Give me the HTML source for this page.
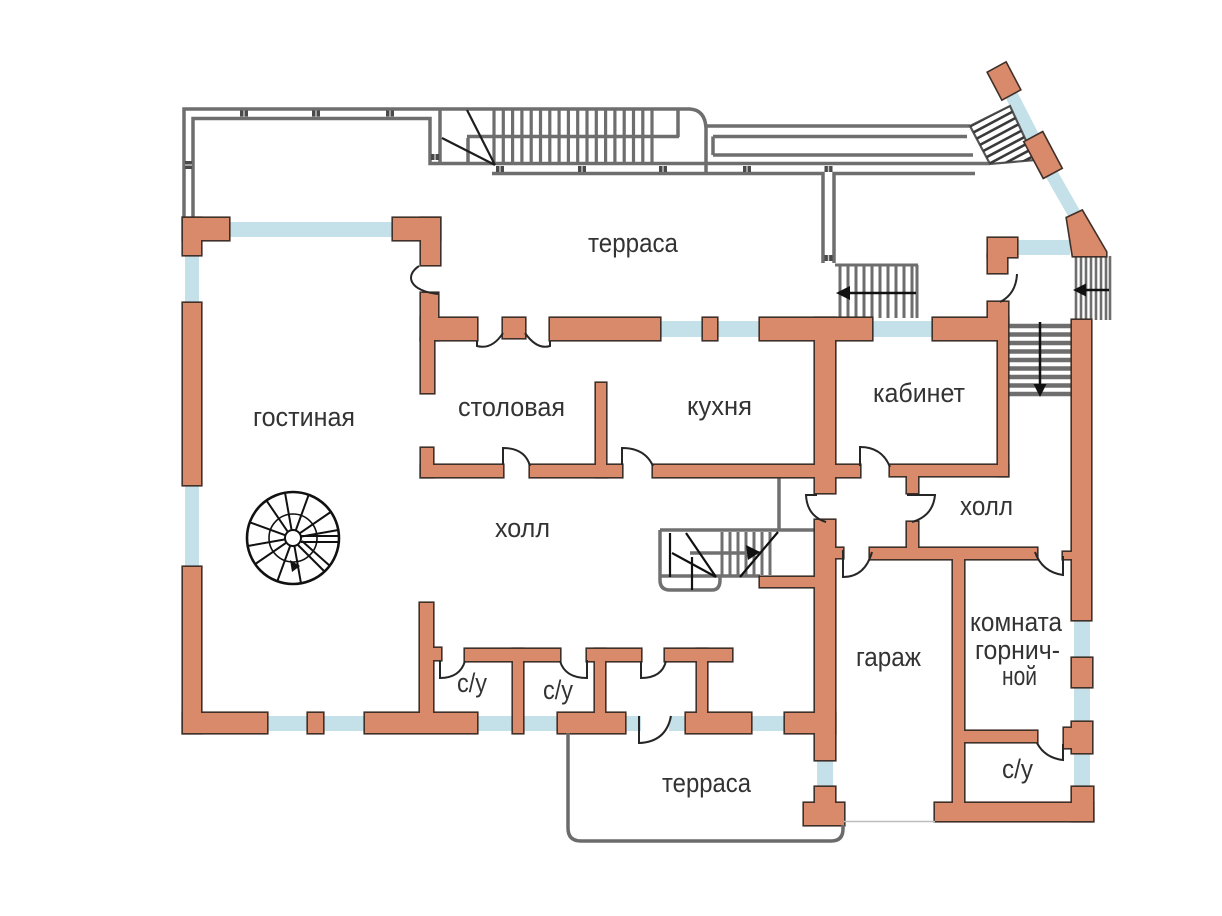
<!DOCTYPE html>
<html><head><meta charset="utf-8">
<style>html,body{margin:0;padding:0;background:#fff}svg{display:block}</style>
</head><body>
<svg width="1222" height="916" viewBox="0 0 1222 916" xmlns="http://www.w3.org/2000/svg">
<rect width="1222" height="916" fill="#fff"/>
<defs>
<g id="post"><rect x="-4" y="-3" width="8" height="6" fill="#4a4a4a"/><rect x="-0.7" y="-3" width="1.4" height="6" fill="#c8c8c8"/></g>
<g id="W">
<rect x="183" y="218" width="46" height="22"/>
<rect x="183" y="218" width="18" height="37"/>
<rect x="183" y="303" width="18" height="182"/>
<rect x="183" y="567" width="18" height="166"/>
<rect x="183" y="713" width="84" height="20"/>
<rect x="308" y="713" width="15" height="20"/>
<rect x="365" y="713" width="112" height="20"/>
<rect x="420" y="603" width="13" height="112"/>
<rect x="433" y="648" width="8" height="12"/>
<rect x="465" y="649" width="95" height="12"/>
<rect x="513" y="649" width="10" height="84"/>
<rect x="558" y="713" width="67" height="20"/>
<rect x="595" y="649" width="10" height="66"/>
<rect x="587" y="649" width="54" height="12"/>
<rect x="686" y="713" width="65" height="20"/>
<rect x="697" y="649" width="10" height="66"/>
<rect x="665" y="649" width="67" height="12"/>
<rect x="785" y="713" width="50" height="20"/>
<rect x="815" y="520" width="20" height="240"/>
<rect x="815" y="318" width="20" height="175"/>
<rect x="815" y="787" width="20" height="18"/>
<rect x="804" y="803" width="40" height="22"/>
<rect x="393" y="218" width="47" height="22"/>
<rect x="421" y="218" width="19" height="47"/>
<rect x="421" y="293" width="17" height="47"/>
<rect x="421" y="338" width="13" height="55"/>
<rect x="421" y="318" width="56" height="22"/>
<rect x="503" y="318" width="22" height="20"/>
<rect x="550" y="318" width="110" height="22"/>
<rect x="703" y="318" width="14" height="22"/>
<rect x="760" y="318" width="112" height="22"/>
<rect x="933" y="318" width="75" height="22"/>
<rect x="998" y="338" width="10" height="138"/>
<rect x="988" y="302" width="20" height="20"/>
<rect x="988" y="238" width="29" height="19"/>
<rect x="988" y="255" width="19" height="18"/>
<polygon points="1067,218 1082,211 1106,252 1106,256 1073,256"/>
<polygon points="988.2,72.5 1005.8,62.9 1019.8,89.5 1002.2,99.1"/>
<polygon points="1024.8,142 1042.4,132.6 1061.2,168 1043.6,177.4"/>
<rect x="1072" y="320" width="19" height="300"/>
<rect x="1072" y="658" width="20" height="29"/>
<rect x="1072" y="722" width="20" height="31"/>
<rect x="1064" y="728" width="10" height="20"/>
<rect x="1072" y="787" width="21" height="34"/>
<rect x="935" y="803" width="158" height="18"/>
<rect x="421" y="448" width="12" height="29"/>
<rect x="421" y="465" width="82" height="12"/>
<rect x="530" y="465" width="92" height="12"/>
<rect x="596" y="383" width="10" height="94"/>
<rect x="653" y="465" width="207" height="12"/>
<rect x="890" y="465" width="118" height="11"/>
<rect x="907" y="474" width="11" height="19"/>
<rect x="907" y="522" width="11" height="30"/>
<rect x="833" y="548" width="10" height="10"/>
<rect x="870" y="548" width="167" height="11"/>
<rect x="1063" y="552" width="11" height="7"/>
<rect x="953" y="557" width="11" height="248"/>
<rect x="962" y="731" width="75" height="11"/>
<rect x="760" y="577" width="57" height="10"/>
</g>
<clipPath id="hc"><polygon points="970,126 1010,106 1035,160 990,164"/></clipPath>
</defs>

<!-- windows -->
<g fill="#c4e0e8">
<rect x="229" y="222" width="164" height="15"/>
<rect x="185" y="255" width="14" height="48"/>
<rect x="185" y="485" width="14" height="82"/>
<rect x="267" y="716" width="98" height="15"/>
<rect x="477" y="716" width="81" height="15"/>
<rect x="625" y="716" width="16" height="15"/>
<rect x="669" y="716" width="17" height="15"/>
<rect x="751" y="716" width="34" height="15"/>
<rect x="817" y="760" width="16" height="27"/>
<rect x="660" y="321" width="100" height="16"/>
<rect x="872" y="321" width="61" height="16"/>
<rect x="1017" y="240" width="53" height="15"/>
<rect x="1074" y="620" width="16" height="167"/>
<polygon points="1005.3,97.1 1016.7,90.9 1039.7,135.9 1028.3,142.1"/>
<polygon points="1045.3,176.1 1056.7,169.9 1080.7,211.9 1069.3,218.1"/>
</g>

<!-- terrace rails -->
<g fill="none" stroke="#6e6e6e" stroke-width="3.5">
<path d="M184,218 V109 H690 Q705,110 706,128 V174"/>
<path d="M193,218 V118.5 H430 V163.5 H990"/>
<path d="M440,110 V163"/>
<path d="M467,136.5 H679"/>
<path d="M468,138 V163"/>
<path d="M678,110 V137"/>
<path d="M492,173.5 H823 V263"/>
<path d="M834,263 V173.5 H975"/>
<path d="M706,126 H970"/>
<path d="M713,136.5 H967 M713,155 H973 M713,136.5 V155"/>
</g>
<!-- top stairs treads -->
<g stroke="#6e6e6e" stroke-width="3.2">
<path d="M494,110V165 M503.3,110V165 M512.6,110V165 M521.9,110V165 M531.2,110V165 M540.5,110V165 M549.8,110V165 M559.1,110V165 M568.4,110V165 M577.7,110V165 M587,110V165 M596.3,110V165 M605.6,110V165 M614.9,110V165 M624.2,110V165 M633.5,110V165 M642.8,110V165 M652,110V165"/>
</g>
<g stroke="#1e1e1e" stroke-width="2.2" fill="none">
<path d="M467,110 L495,165 M442,138 L495,165"/>
</g>

<!-- hatched diagonal stair -->
<polygon points="970,126 1010,106 1035,160 990,164" fill="#fff" stroke="#555" stroke-width="2.2"/>
<g clip-path="url(#hc)" stroke="#3a3a3a" stroke-width="2.6">
<path d="M1009.58,105.29L965.43,128.79 M1012.87,111.47L968.72,134.97 M1016.16,117.65L972.01,141.15 M1019.45,123.84L975.3,147.34 M1022.74,130.02L978.59,153.52 M1026.03,136.2L981.88,159.7 M1029.32,142.38L985.17,165.88 M1032.61,148.56L988.46,172.06 M1035.9,154.74L991.75,178.24"/>
</g>

<!-- posts -->
<use href="#post" x="244" y="113.5"/>
<use href="#post" x="316" y="113.5"/>
<use href="#post" x="390" y="113.5"/>
<use href="#post" x="435" y="157"/>
<use href="#post" x="500" y="169"/>
<use href="#post" x="582" y="169"/>
<use href="#post" x="663" y="169"/>
<use href="#post" x="747" y="169"/>
<use href="#post" x="828.5" y="169"/>
<use href="#post" x="828.5" y="258"/>
<g fill="#4a4a4a"><rect x="185" y="161" width="7" height="8"/></g>
<rect x="185" y="164.3" width="7" height="1.4" fill="#c8c8c8"/>

<!-- middle-right stair (left arrow) -->
<g stroke="#6e6e6e" stroke-width="3" fill="none">
<path d="M835,265 H918 M917,265 V318"/>
<path d="M840,265V318 M848,265V318 M856,265V318 M864,265V318 M872,265V318 M880,265V318 M888,265V318 M896,265V318 M904,265V318 M912,265V318"/>
</g>
<path d="M916,293 H846" stroke="#111" stroke-width="2.5"/>
<polygon points="836,293 850,286 850,300" fill="#111"/>

<!-- upper right stair -->
<g stroke="#6e6e6e" stroke-width="2.6" fill="none">
<path d="M1076,256V320 M1081,256V320 M1086,256V320 M1091,256V320 M1096,256V320 M1101,256V320 M1106,256V320 M1110,256V320"/>
</g>
<path d="M1109,290 H1082" stroke="#111" stroke-width="2.5"/>
<polygon points="1073,290 1086,283.5 1086,296.5" fill="#111"/>

<!-- down stair -->
<g stroke="#6e6e6e" stroke-width="4.5">
<path d="M1008,326H1072 M1008,334.5H1072 M1008,343H1072 M1008,351.5H1072 M1008,360H1072 M1008,368.5H1072 M1008,377H1072 M1008,385.5H1072 M1008,394H1072"/>
</g>
<path d="M1040,322 V388" stroke="#111" stroke-width="2.5"/>
<polygon points="1040,397 1033.5,384 1046.5,384" fill="#111"/>

<!-- central stair -->
<g fill="none" stroke="#707070" stroke-width="3.5">
<path d="M779,477 V530 M660,530 H815"/>
<path d="M660,530 V580 Q660,590 670,590 H712 Q720,590 720,580 V576"/>
<path d="M660,576 H760"/>
<path d="M690,553 H760"/>
</g>
<g stroke="#707070" stroke-width="3">
<path d="M722,532V575 M730,532V575 M738,532V575 M746,532V575 M754,532V575 M762,532V575 M770,532V575"/>
</g>
<g stroke="#111" stroke-width="2.2" fill="none">
<path d="M670,533 V577 M686,533 L716,577 M672,553 L716,577 M692,557 V590 M778,532 L740,577"/>
</g>
<polygon points="760,552 746,545 748,560" fill="#111"/>

<!-- spiral stair -->
<g stroke="#111" fill="none">
<circle cx="293" cy="538" r="46" stroke-width="2.6"/>
<circle cx="293" cy="538" r="24" stroke-width="1.6"/>
<g stroke-width="2">
<path d="M294.4,545.9 L301,583.3 M290.3,545.5 L277.3,581.2 M286.5,542.6 L255.3,564 M285.1,539.4 L247.7,546 M285.5,535.3 L249.8,522.3 M287.9,531.9 L266.6,500.7 M291.6,530.1 L285,492.7 M295.7,530.5 L308.7,494.8 M299.5,533.4 L330.7,512 M300.9,536.6 L338.3,530"/>
</g>
<path d="M301,536 H339 M301,542 H338" stroke-width="2"/>
<path d="M298,545 L325,572 M302,541 L330,566" stroke-width="2"/>
<circle cx="293" cy="538" r="8" fill="#fff" stroke-width="2"/>
</g>
<polygon points="300,566 290,560 292,572" fill="#111"/>

<!-- walls -->
<use href="#W" fill="#3f302a" stroke="#3f302a" stroke-width="3.2"/>
<use href="#W" fill="#d88a6b" stroke="none"/>

<!-- bottom terrace -->
<path d="M568,733 V828 Q568,841 581,841 H831 Q843,841 843,829 V825" fill="none" stroke="#6b6b6b" stroke-width="3.5"/>
<path d="M844,821.5 H935" stroke="#bdbdbd" stroke-width="1.5"/>

<!-- doors -->
<g fill="none" stroke="#262626" stroke-width="2">
<path d="M419,266 C404,276 410,291 438,294"/>
<path d="M477,341 V346 Q492,350 503,333"/>
<path d="M525,333 Q537,350 550,346 V341"/>
<path d="M503,465 V448 Q525,448 530,466"/>
<path d="M622,465 V448 Q645,448 653,466"/>
<path d="M860,466 V447 Q882,447 890,467"/>
<path d="M817,495 H806 Q807,516 826,522"/>
<path d="M907,495 H935 Q933,516 912,522"/>
<path d="M843,550 V577 Q865,577 872,552"/>
<path d="M1035,552 Q1042,572 1063,575 V556"/>
<path d="M1037,743 Q1045,758 1063,760 V744"/>
<path d="M440,660 V678 Q460,678 465,661"/>
<path d="M587,660 V678 Q565,678 560,661"/>
<path d="M641,661 V678 Q662,678 666,661"/>
<path d="M639,716 V743 Q666,742 671,716"/>
<path d="M1017,274 Q1016,294 1000,302"/>
</g>

<!-- labels -->
<g font-family="'Liberation Sans','DejaVu Sans',sans-serif" font-size="27" fill="#333">
<text x="588" y="252" textLength="90" lengthAdjust="spacingAndGlyphs">терраса</text>
<text x="253" y="426" textLength="102" lengthAdjust="spacingAndGlyphs">гостиная</text>
<text x="458" y="416" textLength="107" lengthAdjust="spacingAndGlyphs">столовая</text>
<text x="687" y="415" textLength="65" lengthAdjust="spacingAndGlyphs">кухня</text>
<text x="873" y="402" textLength="92" lengthAdjust="spacingAndGlyphs">кабинет</text>
<text x="495" y="537" textLength="55" lengthAdjust="spacingAndGlyphs">холл</text>
<text x="960" y="515" textLength="53" lengthAdjust="spacingAndGlyphs">холл</text>
<text x="856" y="666" textLength="65" lengthAdjust="spacingAndGlyphs">гараж</text>
<text x="970" y="631" textLength="92" lengthAdjust="spacingAndGlyphs">комната</text>
<text x="975" y="659" textLength="85" lengthAdjust="spacingAndGlyphs">горнич-</text>
<text x="1002" y="685" textLength="35" lengthAdjust="spacingAndGlyphs">ной</text>
<text x="457" y="692" textLength="30" lengthAdjust="spacingAndGlyphs">с/у</text>
<text x="543" y="699" textLength="30" lengthAdjust="spacingAndGlyphs">с/у</text>
<text x="1002" y="778" textLength="31" lengthAdjust="spacingAndGlyphs">с/у</text>
<text x="662" y="792" textLength="89" lengthAdjust="spacingAndGlyphs">терраса</text>
</g>
</svg>
</body></html>
